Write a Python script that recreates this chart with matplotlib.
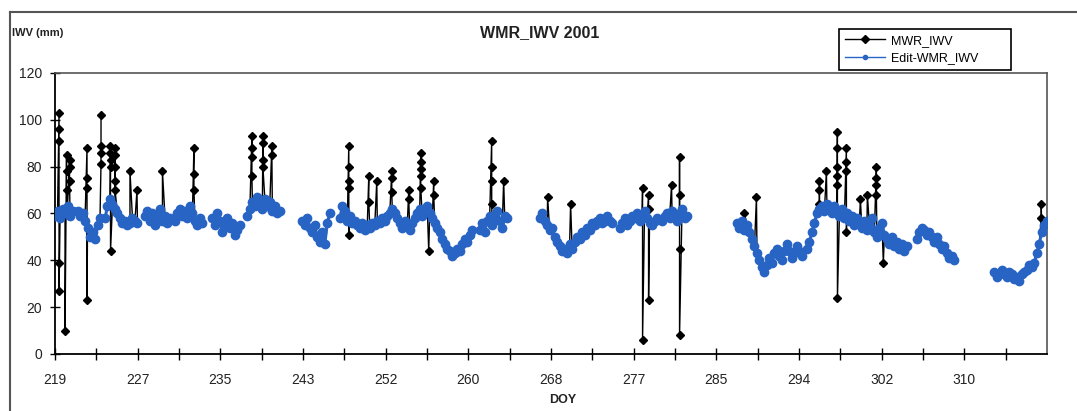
import numpy as np
import matplotlib.pyplot as plt
from matplotlib.lines import Line2D

plt.rcParams['font.family'] = ['Liberation Sans', 'DejaVu Sans']

# 6-hourly samples, DOY 2001
step = 0.25

# Edit-WMR_IWV (mm), one list per data run, named by its first DOY
edit_219 = [59, 61, 58, 62, 60, 63, 59, 61]
edit_221 = [61, 59, 60, 57, 54, 50, 52, 49, 55, 58]
edit_224 = [58, 63, 66, 64, 62, 60, 58, 56, 57, 55, 56, 58, 57, 56]
edit_228 = [59, 61, 57, 60, 55, 58, 62, 57, 59, 56, 58]
edit_231 = [57, 60, 62, 59, 61, 58, 63, 60, 57, 55, 58, 56]
edit_235 = [58, 55, 60, 57, 52, 55, 58, 54, 56, 51, 53, 55]
edit_238 = [59, 62, 65, 63, 67, 64, 62, 66, 63, 65, 61, 63, 60, 61]
edit_244 = [57, 55, 58, 54, 52, 55, 50, 48, 52, 47, 56, 60]
edit_248 = [58, 63, 61, 57, 59, 56, 57, 55, 54, 56, 53, 55, 54, 56, 55, 57,
            56, 58, 57, 59, 60, 62, 60, 58]
edit_254 = [56, 54, 57, 55, 53, 56, 58, 60, 62, 59, 61, 63, 60, 58, 56, 54,
            52, 49, 47, 45, 44, 42, 43, 45, 44, 47, 49, 48, 51, 53]
edit_262 = [53, 56, 52, 57, 59, 55, 58, 61, 57, 54, 59, 58]
edit_268 = [58, 60, 57, 55, 53, 54, 50, 48, 46, 44, 45, 43, 47, 45, 48, 50,
            49, 52, 51, 54, 53, 56, 55, 57, 58, 56, 57, 59, 57, 56]
edit_276 = [54, 56, 58, 55, 57, 59, 58, 60, 57, 59, 61, 58, 56, 55, 57, 58]
edit_280 = [57, 59, 60, 58, 61, 59, 57, 60, 62, 58, 59]
edit_287 = [56, 54, 57, 53, 55, 52, 49, 46, 43, 40, 37, 35, 38, 41, 39, 43,
            45, 42, 40, 44, 47, 44, 41, 43, 46, 44, 42]
edit_294 = [45, 48, 52, 56, 60, 62, 63, 61, 64, 62, 60, 63, 61, 59, 62, 58,
            60, 57, 59, 55, 58, 56, 54, 57, 53, 55, 58, 52, 50, 54, 56, 51,
            49, 47, 50, 46, 48, 45, 47, 44, 46]
edit_305 = [49, 52, 54, 53, 51, 52, 50, 48, 50, 47, 45, 46, 43, 41, 42, 40]
edit_313 = [35, 33, 34, 36, 34, 33, 35, 34, 32, 33, 31, 34, 35, 36, 38, 37,
            39, 43, 47, 52, 55, 57]

edit_runs = [(219.0, edit_219), (221.25, edit_221), (224.0, edit_224),
             (228.0, edit_228), (231.0, edit_231), (234.75, edit_235),
             (238.25, edit_238), (243.75, edit_244), (247.5, edit_248),
             (253.5, edit_254), (261.5, edit_262), (267.5, edit_268),
             (275.5, edit_276), (279.75, edit_280), (287.25, edit_287),
             (294.25, edit_294), (305.25, edit_305), (313.0, edit_313)]

# raw MWR_IWV values that the edit removed
spike_doy = [219.4, 220.0, 220.15, 220.45, 222.2, 223.6, 224.55, 225.0,
             226.5, 227.2, 229.75, 232.9, 238.7, 239.8, 240.7, 248.4, 250.4,
             251.2, 252.7, 254.4, 255.6, 256.4, 256.9, 262.7, 263.9, 268.3,
             270.6, 277.8, 278.4, 280.7, 281.5, 288.0, 289.2, 295.5, 296.2,
             297.3, 298.2, 299.6, 300.3, 301.2, 301.9, 317.7]
spike_vals = [[103, 96, 91, 39, 27], [10], [85, 78, 70], [83, 80, 74],
              [88, 75, 71, 23], [81, 86, 89, 102], [89, 86, 83, 80, 44],
              [88, 85, 80, 74, 70], [78], [70], [78], [88, 77, 70],
              [93, 88, 84, 76], [93, 90, 83, 80], [89, 85],
              [89, 80, 74, 71, 51], [76, 65], [74], [78, 75, 69], [70, 66],
              [86, 82, 79, 76, 71], [44], [74, 68], [91, 80, 74, 64], [74],
              [67], [64], [71, 6], [68, 62, 23], [72], [84, 68, 45, 8], [60],
              [67], [74, 70, 64], [78], [95, 88, 80, 76, 72, 24],
              [88, 82, 78, 52], [66], [68], [80, 75, 72, 68], [39], [58, 64]]

x_labels = ['219', '227', '235', '243', '252', '260', '268', '277', '285',
            '294', '302', '310']

# build both series, with gaps between runs
edit_x, edit_y, mwr_x, mwr_y = [], [], [], []
for start, vals in edit_runs:
    xs = start + step * np.arange(len(vals))
    pts = list(zip(xs, vals))
    for d, vs in zip(spike_doy, spike_vals):
        if start - 0.3 <= d <= xs[-1] + 0.3:
            pts += [(d + 0.001 * i, v) for i, v in enumerate(vs)]
    pts.sort(key=lambda p: p[0])
    edit_x += list(xs) + [np.nan]
    edit_y += list(vals) + [np.nan]
    mwr_x += [p[0] for p in pts] + [np.nan]
    mwr_y += [p[1] for p in pts] + [np.nan]

fig = plt.figure(figsize=(10.77, 4.11), dpi=100)
ax = fig.add_axes([0.0511, 0.1387, 0.9210, 0.6837])

ax.plot(mwr_x, mwr_y, color='black', lw=1, marker='D', ms=4.5,
        label='MWR_IWV', zorder=2)
ax.plot(edit_x, edit_y, color='#2864c4', lw=2.2, marker='o', ms=6,
        mec='#2864c4', label='Edit-WMR_IWV', zorder=3)

day_per_tick = 91 / 22
ax.set_xlim(219, 219 + 24 * day_per_tick)
ax.set_ylim(0, 120)
ax.set_xticks(219 + np.arange(0, 23, 2) * day_per_tick)
ax.set_xticklabels(x_labels)
ax.set_xticks(219 + np.arange(1, 25, 2) * day_per_tick, minor=True)
ax.set_yticks(range(0, 121, 20))
ax.tick_params(axis='x', which='both', direction='inout', length=8,
               width=1, pad=10, labelsize=10, labelcolor='#222222')
ax.tick_params(axis='y', direction='inout', length=7, width=1, pad=6,
               labelsize=10, labelcolor='#222222')
for side in ['left', 'bottom']:
    ax.spines[side].set_linewidth(1.3)
for side in ['top', 'right']:
    ax.spines[side].set_color('#555555')
    ax.spines[side].set_linewidth(1.2)

fig.text(540 / 1077, 1 - 33 / 411, 'WMR_IWV 2001', ha='center', va='center',
         fontsize=11.5, fontweight='bold', color='#222222')
fig.text(12 / 1077, 1 - 33 / 411, 'IWV (mm)', ha='left', va='center',
         fontsize=8, fontweight='bold', color='#222222')
fig.text(563 / 1077, 1 - 400 / 411, 'DOY', ha='center', va='center',
         fontsize=9, fontweight='bold', color='#222222')

leg = ax.legend(loc='upper left',
                bbox_to_anchor=(833 / 1077, 1 - 71 / 411, 184 / 1077, 48 / 411),
                bbox_transform=fig.transFigure, mode='expand', fontsize=9,
                fancybox=False, framealpha=1, edgecolor='black',
                borderpad=0.45, labelspacing=0.45, handlelength=3.2,
                handletextpad=0.5)
leg.get_frame().set_linewidth(1.2)
leg.legend_handles[1].set_markersize(3)
leg.legend_handles[1].set_linewidth(1)

# outer chart frame
fig.add_artist(Line2D([10 / 1077, 1], [1 - 12 / 411] * 2, color='#555555', lw=1.5))
fig.add_artist(Line2D([10 / 1077] * 2, [0, 1 - 12 / 411], color='#555555', lw=1.5))

fig.savefig('out.png', dpi=100)
